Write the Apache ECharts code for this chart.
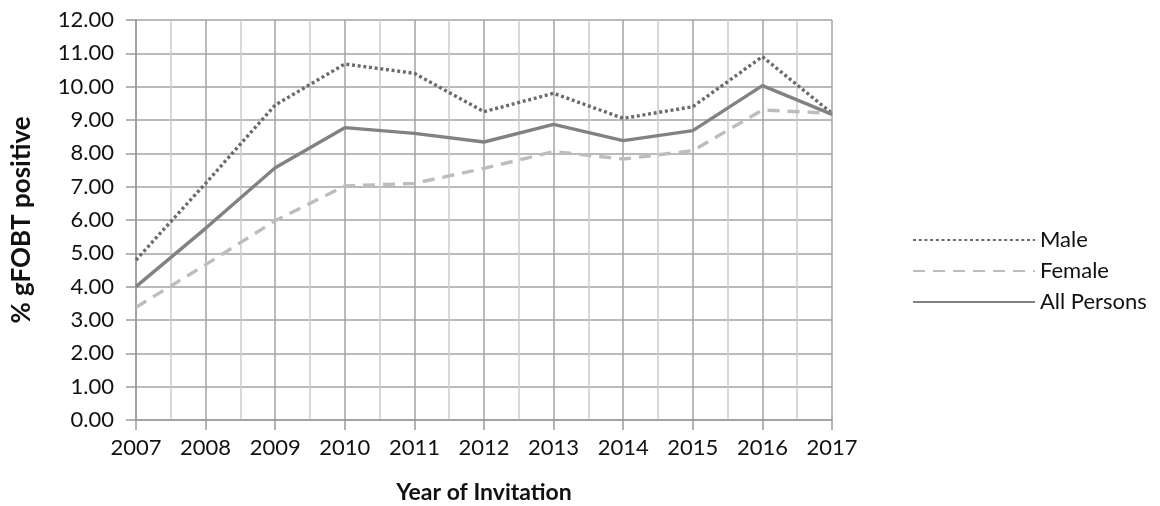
<!DOCTYPE html>
<html>
<head>
<meta charset="utf-8">
<script src="https://cdn.jsdelivr.net/npm/echarts@6/dist/echarts.min.js"></script>
<style>
  html, body { margin: 0; padding: 0; background: #fff; }
  #chart { width: 1160px; height: 506px; }
</style>
</head>
<body>
<div id="chart"></div>
<script>
// Year of invitation
const years = [2007, 2008, 2009, 2010, 2011, 2012, 2013, 2014, 2015, 2016, 2017];
// % gFOBT positive by group
const male = [4.8, 7.1, 9.45, 10.68, 10.4, 9.25, 9.8, 9.05, 9.4, 10.9, 9.2];
const female = [3.38, 4.66, 5.98, 7.02, 7.1, 7.55, 8.05, 7.83, 8.08, 9.3, 9.2];
const allPersons = [4.0, 5.75, 7.57, 8.77, 8.6, 8.34, 8.87, 8.38, 8.68, 10.03, 9.17];

const pairs = vals => years.map((y, i) => [y, vals[i]]);
const FONT = 'Lato';

const chart = echarts.init(document.getElementById('chart'), null, { renderer: 'canvas' });
chart.setOption({
  animation: false,
  backgroundColor: '#ffffff',
  textStyle: { fontFamily: FONT, color: '#111' },
  grid: { left: 136, right: 328, top: 20, bottom: 86, containLabel: false, outerBoundsMode: 'none' },
  xAxis: {
    type: 'value',
    min: 2007, max: 2017, interval: 1,
    name: 'Year of Invitation',
    nameLocation: 'middle',
    nameGap: 61,
    nameTextStyle: { fontFamily: FONT, fontSize: 23, fontWeight: 'bold', color: '#111' },
    axisLine: { show: true, lineStyle: { color: '#9a9a9a', width: 1.5 } },
    axisTick: { show: true, length: 10, lineStyle: { color: '#9a9a9a', width: 1.5 } },
    axisLabel: { fontFamily: FONT, fontSize: 22, color: '#111', margin: 17, formatter: v => String(v) },
    splitLine: { show: true, lineStyle: { color: '#a3a3a3', width: 1.5 } },
    minorTick: { show: false, splitNumber: 2 },
    minorSplitLine: { show: true, lineStyle: { color: '#cbcbcb', width: 1.5 } }
  },
  yAxis: {
    type: 'value',
    min: 0, max: 12, interval: 1,
    name: '% gFOBT positive',
    nameLocation: 'middle',
    nameRotate: 90,
    nameGap: 101,
    nameTextStyle: { fontFamily: FONT, fontSize: 26, fontWeight: 'bold', color: '#111' },
    axisLine: { show: true, lineStyle: { color: '#9a9a9a', width: 1.5 } },
    axisTick: { show: true, length: 10, lineStyle: { color: '#9a9a9a', width: 1.5 } },
    axisLabel: { fontFamily: FONT, fontSize: 22, color: '#111', margin: 22, formatter: v => v.toFixed(2) },
    splitLine: { show: true, lineStyle: { color: '#a3a3a3', width: 1.5 } }
  },
  legend: {
    orient: 'vertical',
    left: 907,
    top: 224,
    itemWidth: 122,
    itemHeight: 10,
    itemGap: 9,
    itemStyle: { opacity: 0 },
    textStyle: { fontFamily: FONT, fontSize: 22, color: '#111', lineHeight: 21, padding: [0, 0, 0, 0] },
    data: ['Male', 'Female', 'All Persons']
  },
  series: [
    {
      name: 'Male', type: 'line', symbol: 'none', showSymbol: false,
      data: pairs(male),
      lineStyle: { color: '#6b6b6b', width: 3.4, type: [3, 2.7], cap: 'butt' },
      itemStyle: { color: '#6b6b6b' }
    },
    {
      name: 'Female', type: 'line', symbol: 'none', showSymbol: false,
      data: pairs(female),
      lineStyle: { color: '#bdbdbd', width: 3.4, type: [12, 8], cap: 'butt' },
      itemStyle: { color: '#bdbdbd' }
    },
    {
      name: 'All Persons', type: 'line', symbol: 'none', showSymbol: false,
      data: pairs(allPersons),
      lineStyle: { color: '#828282', width: 3.4, type: 'solid' },
      itemStyle: { color: '#828282' }
    }
  ]
});
</script>
</body>
</html>
